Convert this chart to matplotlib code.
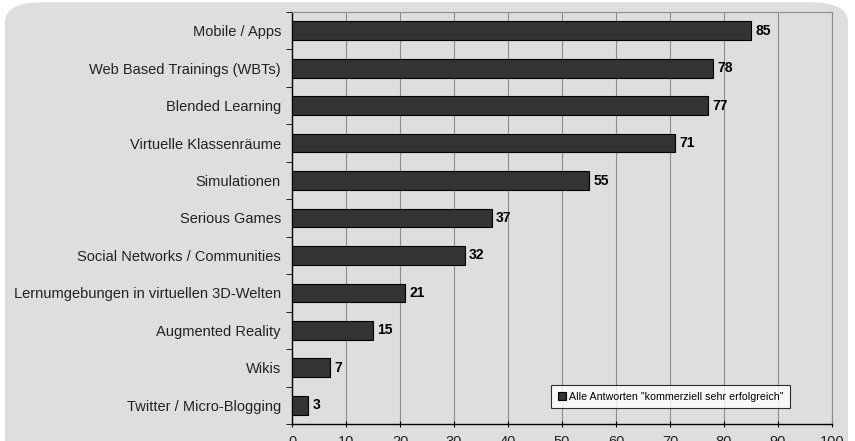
import matplotlib.pyplot as plt
from matplotlib.patches import FancyBboxPatch

# categories top to bottom and their values
categories = [
    "Mobile / Apps",
    "Web Based Trainings (WBTs)",
    "Blended Learning",
    "Virtuelle Klassenräume",
    "Simulationen",
    "Serious Games",
    "Social Networks / Communities",
    "Lernumgebungen in virtuellen 3D-Welten",
    "Augmented Reality",
    "Wikis",
    "Twitter / Micro-Blogging",
]
values = [85, 78, 77, 71, 55, 37, 32, 21, 15, 7, 3]
xticks = [0, 10, 20, 30, 40, 50, 60, 70, 80, 90, 100]
series_name = 'Alle Antworten "kommerziell sehr erfolgreich"'

plt.rcParams['font.family'] = ['Liberation Sans', 'DejaVu Sans']

bg = '#dedede'
fig = plt.figure(figsize=(8.55, 4.41), dpi=100)
fig.patch.set_facecolor('white')

# rounded grey panel behind everything
panel = FancyBboxPatch((5 / 855, -0.1), 843 / 855, 1.095,
                       boxstyle='round,pad=0,rounding_size=0.045',
                       transform=fig.transFigure, facecolor=bg,
                       edgecolor='none', zorder=-10)
fig.patches.append(panel)

ax = fig.add_axes([292 / 855, 1 - 424 / 441, 540 / 855, 412 / 441])
ax.set_facecolor(bg)
ax.set_zorder(1)

pos = list(range(len(categories)))
ax.barh(pos, values, height=0.5, color='#333333', edgecolor='black',
        linewidth=0.8, zorder=3, label=series_name)
for p, v in zip(pos, values):
    ax.text(v + 0.8, p, str(v), va='center', ha='left', fontsize=10,
            fontweight='bold', color='black', zorder=4)

ax.set_xlim(0, 100)
ax.set_ylim(len(categories) - 0.5, -0.5)
ax.set_xticks(xticks)
ax.set_xticklabels([str(t) for t in xticks], fontsize=10.5, color='#222222')
ax.set_yticks(pos)
ax.set_yticklabels(categories, fontsize=10.5, color='#222222')
ax.tick_params(axis='y', length=0, pad=8)
ax.set_yticks([p + 0.5 for p in [-1] + pos], minor=True)
ax.tick_params(axis='y', which='minor', length=4, direction='out', color='black')
ax.tick_params(axis='x', length=4, direction='inout', pad=6, color='black')

ax.grid(axis='x', color='#8c8c8c', linewidth=0.8, zorder=1)
ax.set_axisbelow(True)
for s in ['top', 'right']:
    ax.spines[s].set_color('#8c8c8c')
    ax.spines[s].set_linewidth(0.8)
for s in ['left', 'bottom']:
    ax.spines[s].set_color('black')
    ax.spines[s].set_linewidth(1.0)

leg = ax.legend(loc='lower right', bbox_to_anchor=(0.922, 0.039),
                fontsize=7.7, frameon=True, fancybox=False,
                handlelength=0.8, handleheight=0.8, handletextpad=0.25,
                borderpad=0.6, borderaxespad=0)
leg.get_frame().set_edgecolor('black')
leg.get_frame().set_facecolor('white')
leg.get_frame().set_linewidth(0.8)

fig.savefig('out.png', dpi=100, facecolor=fig.get_facecolor())
